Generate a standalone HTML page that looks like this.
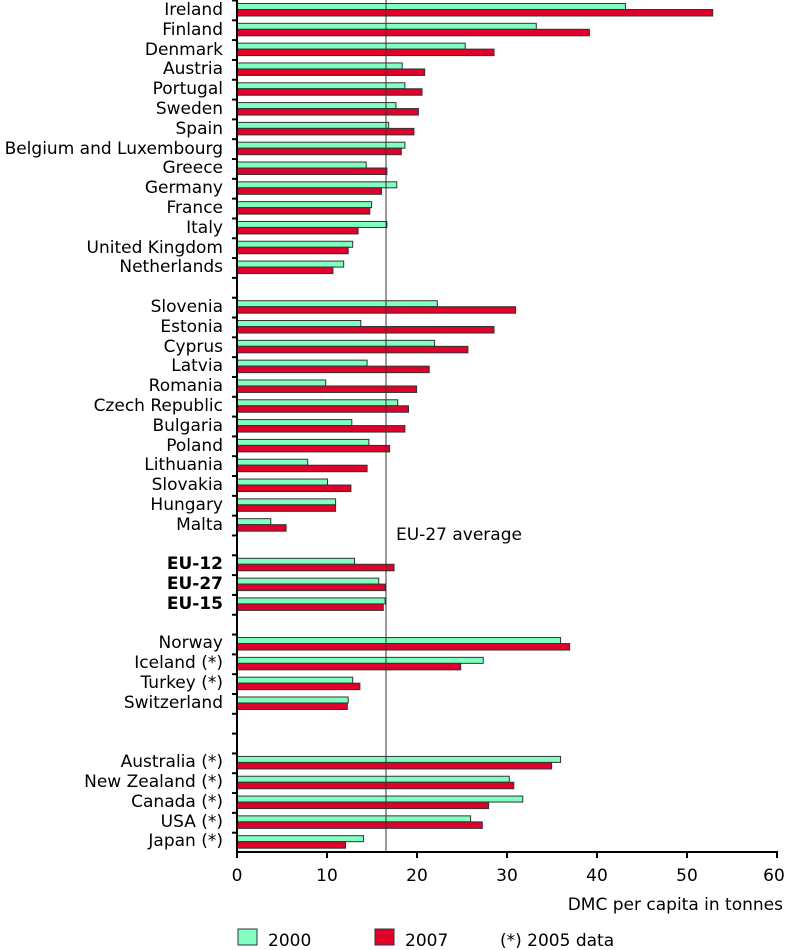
<!DOCTYPE html>
<html><head><meta charset="utf-8"><style>
body{margin:0;background:#fff;overflow:hidden}
svg{display:block}
svg text{font-family:"DejaVu Sans","Liberation Sans",sans-serif;font-size:17px;fill:#000}
</style></head><body>
<svg id="s" width="785" height="950" xmlns="http://www.w3.org/2000/svg">
<g text-anchor="end">
<text x="223" y="15">Ireland</text>
<text x="223" y="35">Finland</text>
<text x="223" y="55">Denmark</text>
<text x="223" y="74">Austria</text>
<text x="223" y="94">Portugal</text>
<text x="223" y="114">Sweden</text>
<text x="223" y="134">Spain</text>
<text x="223" y="154">Belgium and Luxembourg</text>
<text x="223" y="173">Greece</text>
<text x="223" y="193">Germany</text>
<text x="223" y="213">France</text>
<text x="223" y="233">Italy</text>
<text x="223" y="253">United Kingdom</text>
<text x="223" y="272">Netherlands</text>
<text x="223" y="312">Slovenia</text>
<text x="223" y="332">Estonia</text>
<text x="223" y="352">Cyprus</text>
<text x="223" y="371">Latvia</text>
<text x="223" y="391">Romania</text>
<text x="223" y="411">Czech Republic</text>
<text x="223" y="431">Bulgaria</text>
<text x="223" y="451">Poland</text>
<text x="223" y="470">Lithuania</text>
<text x="223" y="490">Slovakia</text>
<text x="223" y="510">Hungary</text>
<text x="223" y="530">Malta</text>
<text x="223" y="569" font-weight="bold">EU-12</text>
<text x="223" y="589" font-weight="bold">EU-27</text>
<text x="223" y="609" font-weight="bold">EU-15</text>
<text x="223" y="648">Norway</text>
<text x="223" y="668">Iceland (*)</text>
<text x="223" y="688">Turkey (*)</text>
<text x="223" y="708">Switzerland</text>
<text x="223" y="767">Australia (*)</text>
<text x="223" y="787">New Zealand (*)</text>
<text x="223" y="807">Canada (*)</text>
<text x="223" y="827">USA (*)</text>
<text x="223" y="846">Japan (*)</text>
</g>
<g id="bars"></g>
<line x1="386" y1="0" x2="386" y2="852" stroke="#333" stroke-width="1"/>
<text x="396" y="540">EU-27 average</text>
<g id="ax" stroke="#000" stroke-width="2"><line x1="237" y1="0" x2="237" y2="853"/><line x1="236" y1="852" x2="778" y2="852"/></g>
<g text-anchor="middle">
<text x="237" y="881">0</text><text x="327" y="881">10</text><text x="417" y="881">20</text><text x="507" y="881">30</text><text x="597" y="881">40</text><text x="687" y="881">50</text><text x="774" y="881">60</text>
</g>
<text x="783" y="910" text-anchor="end">DMC per capita in tonnes</text>
<rect x="238" y="929" width="19" height="16" fill="#80ffc0" stroke="#333"/>
<text x="268" y="946">2000</text>
<rect x="375" y="929" width="19" height="16" fill="#e0002a" stroke="#333"/>
<text x="405" y="946">2007</text>
<text x="500" y="946">(*) 2005 data</text>
</svg>
<script>
var d=[[43.1,52.8],[33.2,39.1],[25.3,28.5],[18.3,20.8],[18.6,20.5],[17.6,20.1],[16.8,19.6],[18.6,18.2],[14.3,16.6],[17.7,16.0],[14.9,14.7],[16.6,13.4],[12.8,12.3],[11.8,10.6],null,
[22.2,30.9],[13.7,28.5],[21.9,25.6],[14.4,21.3],[9.8,19.9],[17.8,19.0],[12.7,18.6],[14.6,16.9],[7.8,14.4],[10.0,12.6],[10.9,10.9],[3.7,5.4],null,
[13.0,17.4],[15.7,16.4],[16.4,16.2],null,[35.9,36.9],[27.3,24.8],[12.8,13.6],[12.3,12.2],null,null,
[35.9,34.9],[30.2,30.7],[31.7,27.9],[25.9,27.2],[14.0,12.0]];
var p=852/43,g=document.getElementById('bars'),ax=document.getElementById('ax'),h='',t='';
for(var i=0;i<43;i++){var y=i*p;
t+='<line x1="232" y1="'+(y+0.5)+'" x2="237" y2="'+(y+0.5)+'"/>';
if(d[i]){h+='<rect x="237.5" y="'+(y+3.5)+'" width="'+(d[i][0]*9)+'" height="6" fill="#80ffc0" stroke="#333" stroke-width="1"/>';
h+='<rect x="237.5" y="'+(y+9.5)+'" width="'+(d[i][1]*9)+'" height="6.5" fill="#e0002a" stroke="#333" stroke-width="1"/>';}}
for(var k=0;k<=6;k++)t+='<line x1="'+(237+k*90)+'" y1="852" x2="'+(237+k*90)+'" y2="858"/>';
g.innerHTML=h;ax.innerHTML+=t;
</script>
</body></html>
